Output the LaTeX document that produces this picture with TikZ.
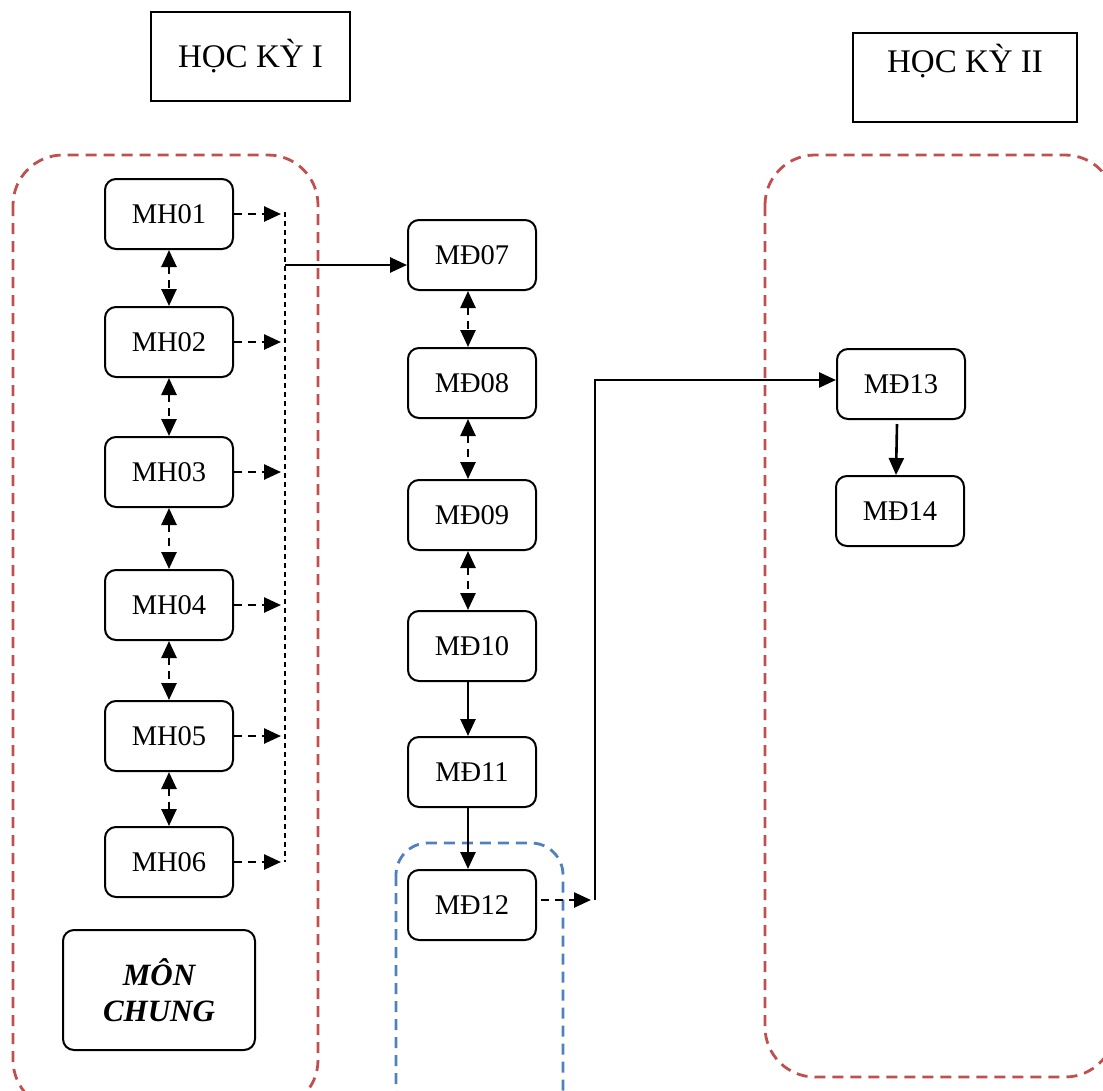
\documentclass[tikz,border=0pt]{standalone}
\usepackage{fontspec}
\setmainfont{Liberation Serif}
\usetikzlibrary{positioning,arrows.meta,calc}
\definecolor{dodo}{HTML}{C0504D}
\definecolor{xanh}{HTML}{4F81BD}
\tikzstyle{mon}=[draw,rounded corners=11pt,line width=2pt,minimum width=128pt,minimum height=70pt,inner sep=0pt,font=\fontsize{28.5}{32}\selectfont]
\tikzstyle{hocky}=[draw,line width=1.6pt,inner sep=0pt,font=\fontsize{33}{36}\selectfont]
\tikzstyle{nhom}=[dash pattern=on 11pt off 7pt,line width=2.8pt,rounded corners=50pt]
\tikzstyle{muiten}=[line width=2.6pt,-{Triangle[length=17pt,width=15pt]}]
\tikzstyle{haimui}=[line width=2.6pt,dash pattern=on 8pt off 6pt,{Triangle[length=17pt,width=15pt]}-{Triangle[length=17pt,width=15pt]}]

\begin{document}
\begin{tikzpicture}[x=1pt,y=-1pt]
  \useasboundingbox (0,0) rectangle (1103,1090);
  % hoc ky
  \node[hocky,minimum width=199pt,minimum height=89pt] (hk1) at (250.5,56.5) {HỌC KỲ I};
  \node[hocky,minimum width=224pt,minimum height=89pt,text depth=38pt] (hk2) at (965,77.5) {HỌC KỲ II};
  % khung
  \draw[nhom,dodo] (13,155) rectangle (318,1110);
  \draw[nhom,dodo] (765,155) rectangle (1115,1077);
  \draw[nhom,xanh,rounded corners=32pt] (396,843) rectangle (563,1120);
  % mon chung
  \foreach \n/\y in {01/214,02/342,03/472,04/605,05/736,06/862}
    \node[mon] (mh\n) at (169,\y) {MH\n};
  \node[mon,minimum width=192pt,minimum height=120pt,align=center,font=\fontsize{31}{36}\selectfont\bfseries\itshape] (chung) at (159,990) {MÔN\\CHUNG};
  \foreach \a/\b in {01/02,02/03,03/04,04/05,05/06}
    \draw[haimui] (mh\a.south) -- (mh\b.north);
  % gom
  \coordinate (bustop) at (285,212);
  \coordinate (busbot) at (285,862);
  \draw[line width=1.4pt,dash pattern=on 5pt off 4pt] (bustop) -- (busbot);
  \foreach \n in {01,02,03,04,05,06}
    \draw[muiten,dash pattern=on 8pt off 6pt] (mh\n.east) -- ([xshift=-4pt]mh\n.east -| bustop);
  % mo dun
  \foreach \n/\y in {07/255,08/383,09/515,10/646,11/772,12/905}
    \node[mon] (md\n) at (472,\y) {MĐ\n};
  \coordinate (nhanh) at (285,265);
  \draw[muiten] (nhanh) -- (nhanh -| md07.west);
  \foreach \a/\b in {07/08,08/09,09/10}
    \draw[haimui] ([xshift=-4pt]md\a.south) -- ([xshift=-4pt]md\b.north);
  \draw[muiten] ([xshift=-4pt]md10.south) -- ([xshift=-4pt]md11.north);
  \draw[muiten] ([xshift=-4pt]md11.south) -- ([xshift=-4pt]md12.north);
  % hoc ky II
  \node[mon] (md13) at (901,384) {MĐ13};
  \node[mon] (md14) at (900,511) {MĐ14};
  \coordinate (re) at (595,900);
  \draw[muiten,dash pattern=on 8pt off 6pt] ([xshift=4pt]md12.east |- re) -- ([xshift=-4pt]re);
  \draw[muiten] (re) -- (re |- 0,380) -- (md13.west |- 0,380);
  \draw[muiten] ([xshift=-4pt,yshift=-4pt]md13.south) -- ([xshift=-4pt]md14.north);
\end{tikzpicture}
\end{document}
